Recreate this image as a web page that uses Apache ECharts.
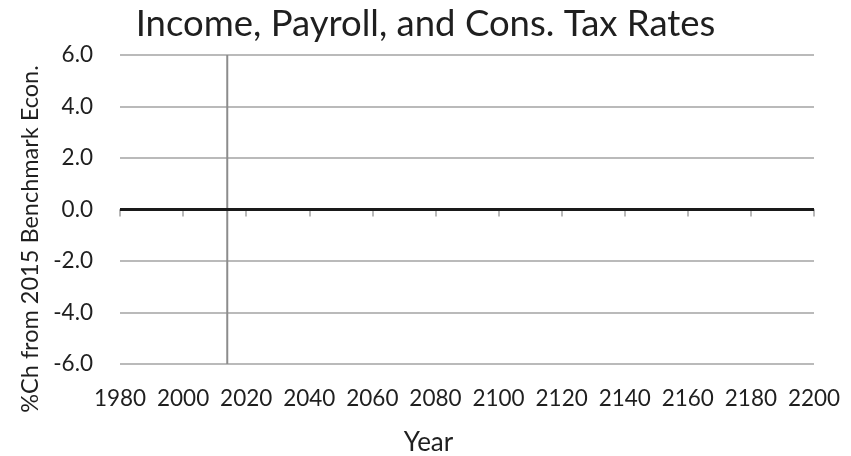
<!DOCTYPE html>
<html>
<head>
<meta charset="utf-8">
<title>Income, Payroll, and Cons. Tax Rates</title>
<script src="https://cdn.jsdelivr.net/npm/echarts@6/dist/echarts.min.js"></script>
<style>
  html, body { margin: 0; padding: 0; background: #ffffff; }
  #chart { width: 851px; height: 456px; }
</style>
</head>
<body>
<div id="chart"></div>
<script>
// Simulation years and the percent change from the 2015 benchmark economy
const years = [1980, 2000, 2020, 2040, 2060, 2080, 2100, 2120, 2140, 2160, 2180, 2200];
const pctChange = [0.0, 0.0, 0.0, 0.0, 0.0, 0.0, 0.0, 0.0, 0.0, 0.0, 0.0, 0.0];
// Policy start year marked by the vertical rule
const startYear = [2014];
// Axis ranges and tick steps
const xRange = [1980, 2200];
const xStep = 20;
const yRange = [-6, 6];
const yStep = 2;

const FONT = 'Lato, "Open Sans", sans-serif';
const TEXT = '#1f1f1f';
const GRID = '#a3a3a3';

const chart = echarts.init(document.getElementById('chart'), null, { renderer: 'canvas' });

const option = {
  backgroundColor: '#ffffff',
  animation: false,
  title: {
    text: 'Income, Payroll, and Cons. Tax Rates',
    left: 'center',
    top: 1,
    textStyle: { fontFamily: FONT, fontSize: 36.5, fontWeight: 'normal', color: TEXT }
  },
  grid: {
    left: 120, top: 55, width: 694, height: 309,
    containLabel: false,
    outerBoundsMode: 'none'
  },
  xAxis: [
    {
      // Year labels along the bottom of the plot
      type: 'value',
      position: 'bottom',
      min: xRange[0],
      max: xRange[1],
      interval: xStep,
      name: 'Year',
      nameLocation: 'middle',
      nameGap: 66,
      nameTextStyle: { fontFamily: FONT, fontSize: 26, color: TEXT, padding: [0, 77, 0, 0] },
      axisLine: { show: false, onZero: false },
      axisTick: { show: false },
      splitLine: { show: false },
      axisLabel: {
        fontFamily: FONT, fontSize: 22.5, color: TEXT, margin: 23,
        formatter: v => String(v)
      }
    },
    {
      // Axis line and ticks sitting on the zero value
      type: 'value',
      position: 'top',
      min: xRange[0],
      max: xRange[1],
      interval: xStep,
      axisLine: { show: true, onZero: true, lineStyle: { color: GRID, width: 1.5 } },
      axisTick: { show: true, inside: true, length: 7, lineStyle: { color: GRID, width: 1.5 } },
      axisLabel: { show: false },
      splitLine: { show: false }
    }
  ],
  yAxis: {
    type: 'value',
    min: yRange[0],
    max: yRange[1],
    interval: yStep,
    name: '%Ch from 2015 Benchmark Econ.',
    nameLocation: 'middle',
    nameGap: 76,
    nameTextStyle: { fontFamily: FONT, fontSize: 23.5, color: TEXT, padding: [0, 59, 0, 0] },
    axisLine: { show: false },
    axisTick: { show: false },
    splitLine: { show: true, lineStyle: { color: GRID, width: 1.5 } },
    axisLabel: {
      fontFamily: FONT, fontSize: 22.5, color: TEXT, margin: 27,
      formatter: v => v.toFixed(1)
    }
  },
  series: [
    {
      name: 'Start year',
      type: 'line',
      xAxisIndex: 0,
      data: [[startYear[0], yRange[0]], [startYear[0], yRange[1]]],
      symbol: 'none',
      lineStyle: { color: '#8c8c8c', width: 2 },
      z: 3,
      silent: true
    },
    {
      name: '%Ch',
      type: 'line',
      xAxisIndex: 0,
      data: years.map((y, i) => [y, pctChange[i]]),
      symbol: 'none',
      lineStyle: { color: '#1a1a1a', width: 3.2 },
      z: 4
    }
  ]
};

chart.setOption(option);
</script>
</body>
</html>
